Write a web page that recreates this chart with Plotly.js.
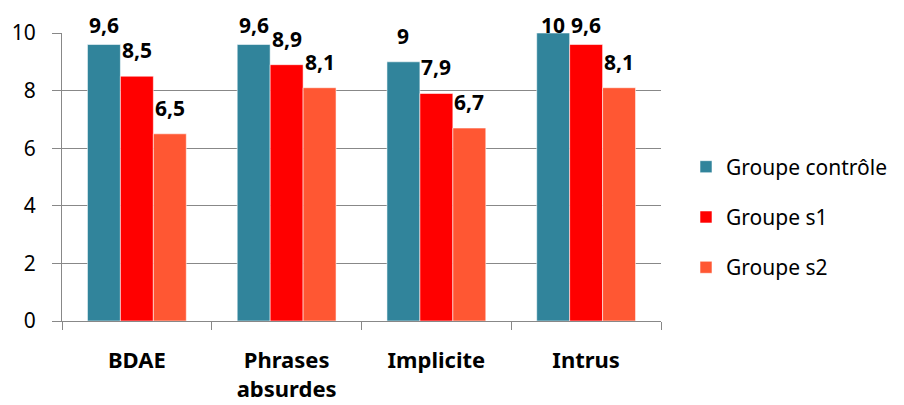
<!DOCTYPE html>
<html><head><meta charset="utf-8">
<script src="https://cdn.plot.ly/plotly-3.0.1.min.js"></script>
<style>html,body{margin:0;padding:0;background:#fff}#c{width:904px;height:405px}</style>
</head><body><div id="c"></div>
<script>
const categories = ['BDAE', 'Phrases<br>absurdes', 'Implicite', 'Intrus'];
const seriesNames = ['Groupe contrôle', 'Groupe s1', 'Groupe s2'];
const controle = [9.6, 9.6, 9, 10];
const s1 = [8.5, 8.9, 7.9, 9.6];
const s2 = [6.5, 8.1, 6.7, 8.1];
const labelsControle = ['9,6', '9,6', '9', '10'];
const labelsS1 = ['8,5', '8,9', '7,9', '9,6'];
const labelsS2 = ['6,5', '8,1', '6,7', '8,1'];
const colors = ['#31849B', '#FF0000', '#FF5733'];

const values = [controle, s1, s2];
const labels = [labelsControle, labelsS1, labelsS2];
const FONT = 'Noto Sans, Open Sans, sans-serif';

const M = {l: 62, r: 242, t: 33, b: 84};
const H = 405;
const yMax = 10;
const plotH = H - M.t - M.b;

const traces = values.map((v, i) => ({
  type: 'bar', x: categories, y: v, name: seriesNames[i],
  legendgroup: 'g' + i,
  marker: {color: colors[i], line: {color: 'rgba(255,255,255,0.55)', width: 1}},
  hoverinfo: 'skip'
}));

const barW = 33;
const annotations = [];
labels.forEach((lab, i) => {
  lab.forEach((t, j) => {
    // label sits ~26px above the bar top, but is kept inside the top of the chart
    const headroom = (yMax - values[i][j]) / yMax * plotH + M.t - 25;
    annotations.push({
      x: categories[j], y: values[i][j], text: '<b>' + t + '</b>',
      xref: 'x', yref: 'y', showarrow: false,
      xshift: (i - 1) * barW, yshift: Math.min(26, headroom), yanchor: 'middle',
      font: {family: FONT, size: 21, color: '#000'}
    });
  });
});

const layout = {
  width: 904, height: 405,
  margin: M,
  paper_bgcolor: '#fff', plot_bgcolor: '#fff',
  barmode: 'group', bargap: 0.34, bargroupgap: 0,
  font: {family: FONT, color: '#000'},
  showlegend: true,
  legend: {x: 1.04, y: 0.361, xanchor: 'left', yanchor: 'middle',
           font: {family: FONT, size: 21, color: '#000'},
           tracegroupgap: 20, traceorder: 'grouped'},
  xaxis: {
    type: 'category', showgrid: false, showline: true, linecolor: '#888', linewidth: 1,
    ticks: 'outside', tickson: 'boundaries', ticklen: 8, tickcolor: '#888',
    tickfont: {family: FONT, size: 22, color: '#000', weight: 'bold'},
    ticklabelstandoff: 20, zeroline: false
  },
  yaxis: {
    range: [0, yMax], dtick: 2, showgrid: true, gridcolor: '#888', gridwidth: 1,
    showline: true, linecolor: '#888', linewidth: 1, zeroline: false,
    ticks: 'outside', ticklen: 9, tickcolor: '#888',
    tickfont: {family: FONT, size: 21, color: '#000'}, ticklabelstandoff: 12
  },
  annotations: annotations
};

Plotly.newPlot('c', traces, layout, {displayModeBar: false, staticPlot: true});
</script></body></html>
